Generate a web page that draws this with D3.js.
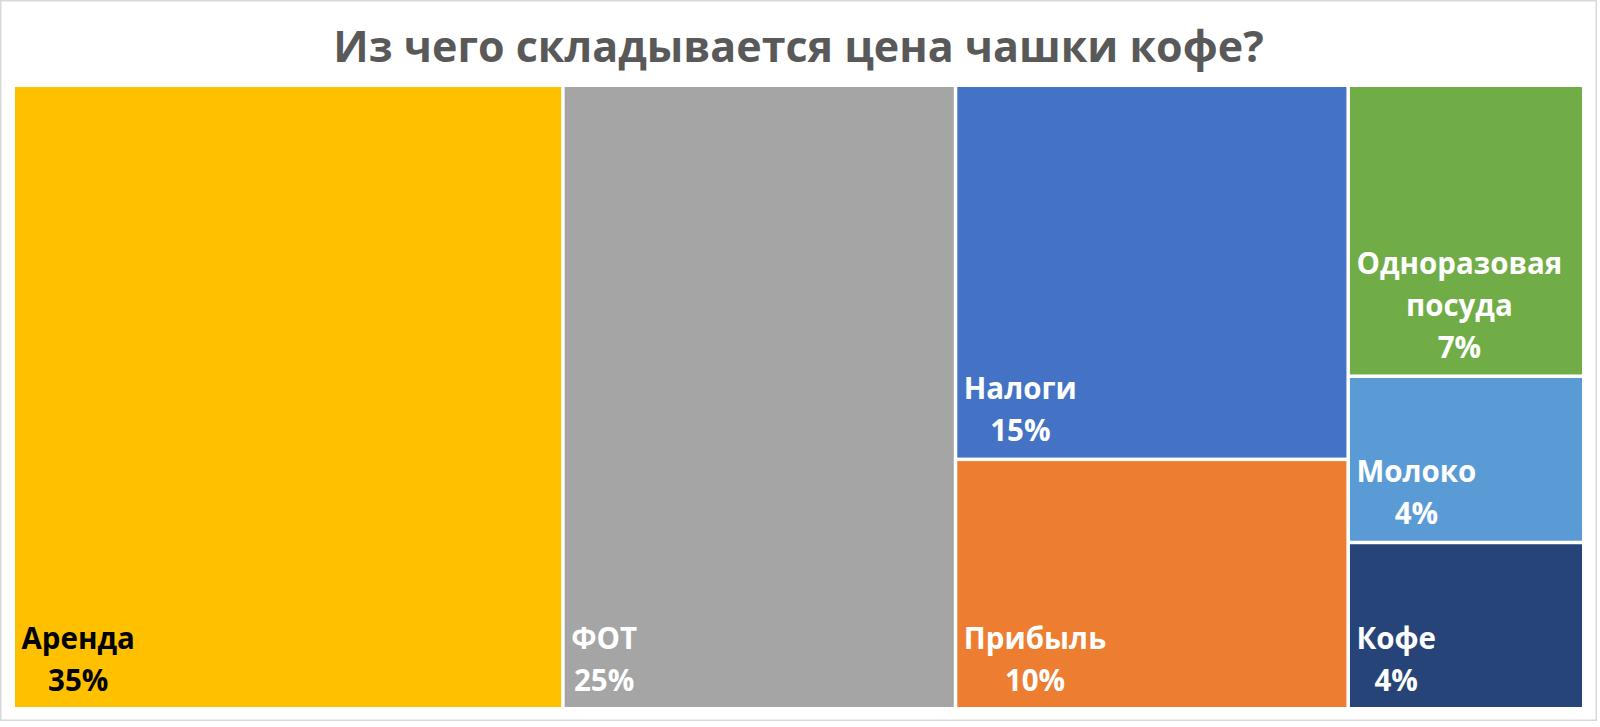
<!DOCTYPE html>
<html><head><meta charset="utf-8">
<script src="https://cdn.jsdelivr.net/npm/d3@7"></script>
<style>body{margin:0;background:#fff}svg{display:block}</style>
</head><body>
<svg id="c" width="1600" height="727"></svg>
<script>
const title = "Из чего складывается цена чашки кофе?";
const categories = ["Аренда","ФОТ","Налоги","Прибыль","Одноразовая посуда","Молоко","Кофе"];
const values = [35,25,15,10,7,4,4];
const groupOf = [0,1,2,2,3,3,3];
const labelLines = [["Аренда"],["ФОТ"],["Налоги"],["Прибыль"],["Одноразовая","посуда"],["Молоко"],["Кофе"]];
const colors = ["#FFC000","#A5A5A5","#4472C4","#ED7D31","#70AD47","#5B9BD5","#264478"];
const textColors = ["#000000","#FFFFFF","#FFFFFF","#FFFFFF","#FFFFFF","#FFFFFF","#FFFFFF"];

const svg = d3.select("#c");
const FONT = "'Open Sans', 'Noto Sans', sans-serif";

svg.append("rect").attr("x",0.75).attr("y",0.75).attr("width",1595.5).attr("height",719.5)
  .attr("fill","#fff").attr("stroke","#D9D9D9").attr("stroke-width",1.5);

svg.append("text").attr("x",798.5).attr("y",62).attr("text-anchor","middle")
  .attr("font-family",FONT).attr("font-weight",700).attr("font-size",43)
  .attr("fill","#595959").text(title);

const nGroups = d3.max(groupOf) + 1;
const data = {name:"root", children: d3.range(nGroups).map(g => ({
  name:"g"+g,
  children: categories.map((c,i)=>({name:c, i, value: values[i]})).filter(d => groupOf[d.i]===g)
}))};

const root = d3.hierarchy(data).sum(d => d.value || 0);
d3.treemap().tile(d3.treemapSliceDice).size([1567, 620]).paddingInner(3.5)(root);

const g = svg.append("g").attr("transform","translate(15,87)");
const leaves = g.selectAll("g.leaf").data(root.leaves()).join("g").attr("class","leaf");
leaves.append("rect")
  .attr("x", d=>d.x0).attr("y", d=>d.y0)
  .attr("width", d=>d.x1-d.x0).attr("height", d=>d.y1-d.y0)
  .attr("fill", d=>colors[d.data.i]);

const LINE = 42, PADL = 6.5, PADB = 16.5;
leaves.each(function(d){
  const lines = labelLines[d.data.i].concat([values[d.data.i] + "%"]);
  const t = d3.select(this).append("text")
    .attr("font-family",FONT).attr("font-weight",700).attr("font-size",29.5)
    .attr("fill", textColors[d.data.i]).attr("text-anchor","middle");
  const spans = lines.map(l => t.append("tspan").text(l));
  let w = 0;
  spans.forEach(s => { w = Math.max(w, s.node().getComputedTextLength()); });
  const cx = d.x0 + PADL + w/2;
  spans.forEach((s,k) => {
    s.attr("x", cx).attr("y", d.y1 - PADB - (lines.length-1-k)*LINE);
  });
});
</script>
</body></html>
